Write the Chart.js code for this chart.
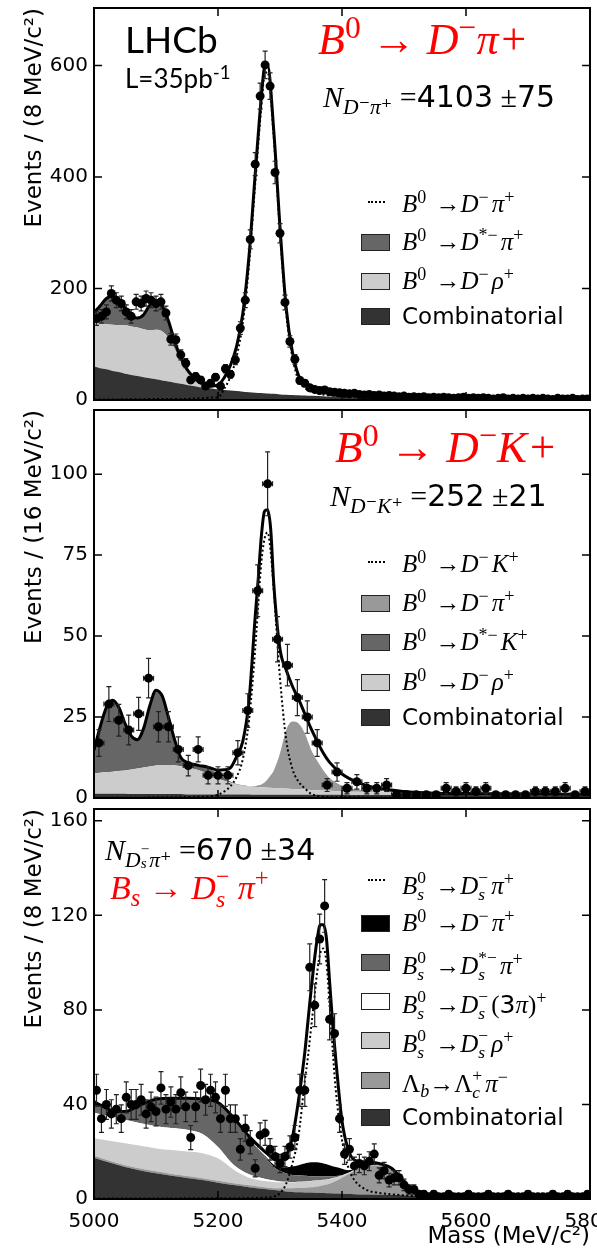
<!DOCTYPE html>
<html>
<head>
<meta charset="utf-8">
<script src="https://cdn.jsdelivr.net/npm/chart.js@4.4.1/dist/chart.umd.min.js"></script>
<style>
  body { margin: 0; background: #fff; }
  #page { position: relative; width: 597px; height: 1249px; overflow: hidden; }
  canvas { position: absolute; left: 0; }
  .ann { position: absolute; white-space: nowrap; line-height: 1; color: #000; z-index: 5; }
  .mi { font-family: 'Liberation Serif', 'DejaVu Serif', serif; font-style: italic; }
  .sf { font-family: 'DejaVu Sans', sans-serif; font-style: normal; }
  .lato { font-family: 'Lato', 'DejaVu Sans', sans-serif; }
  .red { color: #f00; }
  .rm { font-style: normal; }
  sup, sub { font-size: 0.72em; line-height: 0; position: relative; vertical-align: baseline; }
  sup { top: -0.5em; font-style: normal; }
  sub { top: 0.32em; }
  .ss { display: inline-block; font-size: 0.7em; line-height: 0.95; vertical-align: -0.34em; font-style: normal; }
  .row { position: absolute; left: 361px; height: 22px; width: 236px; font-size: 23px; line-height: 1; z-index: 5; }
  .sw { position: absolute; left: 0; top: 2.5px; width: 29px; height: 17px; box-sizing: border-box; border: 1px solid #222; }
  .dot { position: absolute; left: 7px; top: 8px; width: 17px; border-top: 2px dotted #000; }
  .lab { position: absolute; left: 41px; top: 0; white-space: nowrap; }
  .lab.mi { font-size: 25px; top: -2px; }
  .lab.mi sup, .lab.mi .ss { margin-right: 3px; }
</style>
</head>
<body>
<div id="page">
  <canvas id="c1" width="597" height="420" style="top:0"></canvas>
  <canvas id="c2" width="597" height="420" style="top:400px"></canvas>
  <canvas id="c3" width="597" height="449" style="top:800px"></canvas>

  <!-- panel 1 -->
  <div class="ann lato" style="left:125px;top:20px;font-size:37px">LHCb</div>
  <div class="ann lato" style="left:125px;top:65px;font-size:26px">L=35pb<sup>-1</sup></div>
  <div class="ann mi red" style="left:318px;top:18px;font-size:44px">B<sup>0</sup> → D<sup>−</sup>π+</div>
  <div class="ann mi" style="left:323px;top:82px;font-size:30px">N<sub>D<span class="rm">⁻</span>π<span class="rm">⁺</span></sub> <span class="rm">=</span><span class="sf">4103</span> <span class="rm">±</span><span class="sf">75</span></div>
  <div class="row" style="top:193px"><span class="dot"></span><span class="lab mi">B<sup>0</sup> →D<sup>−</sup>π<sup>+</sup></span></div>
  <div class="row" style="top:231px"><span class="sw" style="background:#666"></span><span class="lab mi">B<sup>0</sup> →D<sup>*−</sup>π<sup>+</sup></span></div>
  <div class="row" style="top:270px"><span class="sw" style="background:#ccc"></span><span class="lab mi">B<sup>0</sup> →D<sup>−</sup>ρ<sup>+</sup></span></div>
  <div class="row" style="top:305px"><span class="sw" style="background:#333"></span><span class="lab sf">Combinatorial</span></div>

  <!-- panel 2 -->
  <div class="ann mi red" style="left:335px;top:425px;font-size:45px">B<sup>0</sup> → D<sup>−</sup>K+</div>
  <div class="ann mi" style="left:330px;top:481px;font-size:30px">N<sub>D<span class="rm">⁻</span>K<span class="rm">⁺</span></sub> <span class="rm">=</span><span class="sf">252</span> <span class="rm">±</span><span class="sf">21</span></div>
  <div class="row" style="top:553px"><span class="dot"></span><span class="lab mi">B<sup>0</sup> →D<sup>−</sup>K<sup>+</sup></span></div>
  <div class="row" style="top:592px"><span class="sw" style="background:#999"></span><span class="lab mi">B<sup>0</sup> →D<sup>−</sup>π<sup>+</sup></span></div>
  <div class="row" style="top:631px"><span class="sw" style="background:#666"></span><span class="lab mi">B<sup>0</sup> →D<sup>*−</sup>K<sup>+</sup></span></div>
  <div class="row" style="top:671px"><span class="sw" style="background:#ccc"></span><span class="lab mi">B<sup>0</sup> →D<sup>−</sup>ρ<sup>+</sup></span></div>
  <div class="row" style="top:706px"><span class="sw" style="background:#333"></span><span class="lab sf">Combinatorial</span></div>

  <!-- panel 3 -->
  <div class="ann mi" style="left:105px;top:835px;font-size:30px">N<sub>D<span class="ss" style="vertical-align:-0.1em"><span class="rm">−</span><br><i>s</i></span>π<span class="rm">⁺</span></sub> <span class="rm">=</span><span class="sf">670</span> <span class="rm">±</span><span class="sf">34</span></div>
  <div class="ann mi red" style="left:110px;top:865px;font-size:34px">B<sub>s</sub> → D<span class="ss">−<br><i>s</i></span> π<sup>+</sup></div>
  <div class="row" style="top:871px"><span class="dot"></span><span class="lab mi">B<span class="ss">0<br><i>s</i></span> →D<span class="ss">−<br><i>s</i></span>π<sup>+</sup></span></div>
  <div class="row" style="top:912px"><span class="sw" style="background:#000"></span><span class="lab mi">B<sup>0</sup> →D<sup>−</sup>π<sup>+</sup></span></div>
  <div class="row" style="top:951px"><span class="sw" style="background:#666"></span><span class="lab mi">B<span class="ss">0<br><i>s</i></span> →D<span class="ss">*−<br><i>s</i></span>π<sup>+</sup></span></div>
  <div class="row" style="top:990px"><span class="sw" style="background:#fff"></span><span class="lab mi">B<span class="ss">0<br><i>s</i></span> →D<span class="ss">−<br><i>s</i></span><span class="rm">(</span><span class="sf">3</span>π<span class="rm">)</span><sup>+</sup></span></div>
  <div class="row" style="top:1029px"><span class="sw" style="background:#ccc"></span><span class="lab mi">B<span class="ss">0<br><i>s</i></span> →D<span class="ss">−<br><i>s</i></span>ρ<sup>+</sup></span></div>
  <div class="row" style="top:1069px"><span class="sw" style="background:#999"></span><span class="lab mi"><span class="rm">Λ</span><sub>b</sub>→<span class="rm">Λ</span><span class="ss">+<br><i>c</i></span>π<sup>−</sup></span></div>
  <div class="row" style="top:1106px"><span class="sw" style="background:#333"></span><span class="lab sf">Combinatorial</span></div>
</div>

<script>
// ---------- panel 1: B0 -> D- pi+ (8 MeV bins) ----------
const binWidth1 = 8;
const counts1 = [
  146, 150, 158, 191, 179, 173, 158, 150, 176, 173, 182, 179, 173, 176, 156, 109, 108, 81, 66, 36,
  42, 36, 25, 30, 41, 25, 56, 46, 72, 129, 179, 288, 423, 545, 601, 563, 408, 299, 175, 105,
  73, 35, 30, 22, 19, 17, 18, 15, 14, 13, 12, 11, 12, 10, 9, 10, 8, 9, 7, 8,
  7, 6, 7, 5, 6, 5, 6, 4, 5, 4, 5, 4, 3, 4, 5, 3, 4, 3, 4, 3,
  2, 3, 4, 2, 3, 2, 3, 2, 3, 2, 3, 2, 1, 3, 2, 2, 3, 1, 2, 2
];
const grid1 = [
  5000, 5010, 5020, 5030, 5040, 5050, 5060, 5070, 5080, 5090, 5100, 5110, 5120, 5130, 5140, 5150, 5160, 5170, 5180, 5190, 5200,
  5210, 5220, 5230, 5240, 5250, 5260, 5270, 5275, 5280, 5290, 5300, 5310, 5320, 5330, 5340, 5350, 5375, 5400, 5450, 5500,
  5550, 5600, 5650, 5700, 5750, 5800
];
// upper edges of the stacked components, as seen on the plot
const combTop1 = [
  60, 57, 55, 52, 50, 47, 45, 43, 41, 39, 37, 35, 33, 31, 29, 27, 25, 23, 22, 20, 19,
  18, 17, 16, 15, 14, 13, 12.5, 12, 11.5, 11, 10, 9.5, 9, 8.5, 8, 7.5, 6.5, 5.5, 4, 3,
  2.3, 1.7, 1.3, 1, 0.8, 0.6
];
const rhoTop1 = [
  137, 137, 136, 135, 134, 134, 132, 130, 127, 125, 126, 123, 112, 92, 68, 50, 36, 28, 23, 20, 19,
  18, 17, 16, 15, 14, 13, 12.5, 12, 11.5, 11, 10, 9.5, 9, 8.5, 8, 7.5, 6.5, 5.5, 4, 3,
  2.3, 1.7, 1.3, 1, 0.8, 0.6
];
const dstarTop1 = [
  156, 168, 181, 186, 178, 164, 150, 146, 152, 168, 176, 167, 140, 104, 73, 53, 40, 31, 25, 21, 19,
  18, 17, 16, 15, 14, 13, 12.5, 12, 11.5, 11, 10, 9.5, 9, 8.5, 8, 7.5, 6.5, 5.5, 4, 3,
  2.3, 1.7, 1.3, 1, 0.8, 0.6
];
const signal1 = [
  1, 1, 1, 1, 1, 1.5, 1.5, 1.5, 1.5, 2, 2, 2, 2, 2, 2, 2, 2.5, 3, 3.5, 4.5, 5,
  20, 42, 78, 138, 242, 388, 528, 583, 588, 470, 300, 156, 77, 35, 22, 15, 9, 7, 5, 4,
  3.5, 3, 3, 2.5, 2.5, 2
];
const total1 = [
  157, 169, 182, 187, 179, 165, 151, 147, 153, 170, 178, 169, 142, 106, 76, 55, 42, 34, 28, 25, 27,
  40, 62, 96, 155, 258, 405, 545, 596, 600, 482, 310, 165, 86, 44, 30, 23, 16, 13, 9.5, 7.5,
  6.3, 5.2, 4.5, 4, 3.6, 3.2
];

// ---------- panel 2: B0 -> D- K+ (16 MeV bins) ----------
const binWidth2 = 16;
const counts2 = [
  17, 29, 24, 21, 26, 37, 22, 22, 15, 10, 15, 7, 7, 7, 14, 27, 64, 97, 49, 41,
  31, 25, 17, 4, 8, 3, 5, 3, 3, 4, 1, 1, 1, 1, 1, 3, 2, 3, 2, 3,
  1, 1, 1, 1, 2, 2, 2, 3, 1, 2
];
const grid2 = [
  5000, 5010, 5020, 5030, 5040, 5050, 5060, 5070, 5080, 5090, 5100, 5110, 5120, 5130, 5140, 5150, 5160, 5170, 5180, 5190, 5200,
  5210, 5220, 5230, 5240, 5250, 5260, 5265, 5270, 5275, 5280, 5285, 5290, 5300, 5310, 5320, 5330, 5340, 5350, 5360, 5370,
  5380, 5400, 5425, 5450, 5500, 5550, 5600, 5700, 5800
];
const combTop2 = [
  1.3, 1.3, 1.3, 1.3, 1.3, 1.3, 1.2, 1.2, 1.2, 1.2, 1.2, 1.2, 1.2, 1.2, 1.2, 1.1, 1.1, 1.1, 1.1, 1.1, 1.1,
  1.1, 1.1, 1.1, 1.1, 1.1, 1.0, 1.0, 1.0, 1.0, 1.0, 1.0, 1.0, 1.0, 1.0, 1.0, 1.0, 1.0, 1.0, 1.0, 1.0,
  1.0, 1.0, 0.9, 0.9, 0.9, 0.9, 0.9, 0.8, 0.8
];
const rhoTop2 = [
  7.6, 7.8, 8.0, 8.1, 8.3, 8.5, 8.8, 9.1, 9.4, 9.7, 10.0, 10.1, 10.2, 10.1, 9.8, 9.4, 9.0, 8.5, 7.8, 7.0, 6.0,
  5.3, 4.8, 4.2, 3.8, 3.6, 3.4, 3.4, 3.3, 3.3, 3.2, 3.2, 3.1, 3.0, 2.9, 2.8, 2.7, 2.6, 2.5, 2.4, 2.3,
  2.2, 2.0, 1.9, 1.8, 1.6, 1.4, 1.3, 1.1, 1.0
];
const dstarTop2 = [
  14, 22, 28, 30, 28, 23, 19.2, 18, 21.5, 28.3, 33, 31.3, 24.8, 17.8, 12.2, 11, 10.3, 9.9, 9.5, 8.6, 7.6,
  6.2, 5.1, 4.3, 3.9, 3.6, 3.4, 3.4, 3.3, 3.3, 3.2, 3.2, 3.1, 3.0, 2.9, 2.8, 2.7, 2.6, 2.5, 2.4, 2.3,
  2.2, 2.0, 1.9, 1.8, 1.6, 1.4, 1.3, 1.1, 1.0
];
const dpiTop2 = [
  14, 22, 28, 30, 28, 23, 19.2, 18, 21.5, 28.3, 33, 31.3, 24.8, 17.8, 12.2, 11, 10.3, 9.9, 9.5, 8.6, 7.6,
  6.2, 5.1, 4.3, 3.9, 3.6, 3.6, 3.9, 4.2, 4.8, 5.8, 7.0, 8.5, 13.8, 21, 23.6, 23, 20, 15, 11.5, 8.5,
  6.2, 3.8, 2.6, 2.1, 1.7, 1.4, 1.3, 1.1, 1.0
];
const signal2 = [
  0.1, 0.1, 0.1, 0.1, 0.1, 0.1, 0.1, 0.1, 0.1, 0.2, 0.2, 0.2, 0.2, 0.2, 0.3, 0.3, 0.3, 0.4, 0.4, 0.6, 1.0,
  2, 3.6, 6.5, 12, 24, 46, 60, 73, 80, 82, 76, 64, 37, 18, 9, 5, 3, 1.3, 0.7, 0.4,
  0.3, 0.2, 0.2, 0.1, 0.1, 0.1, 0.1, 0.1, 0.1
];
const total2 = [
  14.8, 22, 28, 30.2, 28, 23, 19.2, 18, 21.5, 28.5, 33.3, 31.5, 25, 18, 12.5, 11, 10.4, 10, 9.7, 9.1, 8.6,
  8.7, 9.3, 12.8, 17.5, 30, 56, 68, 81, 88.5, 89, 83, 66, 46, 39.5, 34.5, 30.5, 26, 21.5, 17.5, 13.8,
  11, 7.4, 4.8, 3.3, 2.0, 1.5, 1.4, 1.2, 1.1
];

// ---------- panel 3: Bs -> Ds- pi+ (8 MeV bins) ----------
const binWidth3 = 8;
const counts3 = [
  46, 34, 40, 36, 38, 34, 43, 40, 40, 42, 36, 39, 37, 47, 38, 41, 38, 45, 39, 26,
  39, 48, 42, 46, 43, 34, 46, 34, 34, 21, 30, 24, 13, 27, 28, 21, 18, 15, 18, 22,
  26, 46, 46, 98, 82, 110, 124, 76, 70, 34, 19, 21, 14, 15, 14, 16, 19, 10, 12, 8,
  9, 9, 6, 4, 4, 2, 2, 1, 2, 1, 1, 2, 1, 1, 1, 2, 1, 1, 1, 2,
  1, 1, 1, 2, 1, 1, 1, 2, 1, 1, 1, 1, 2, 1, 1, 2, 1, 1, 1, 2
];
const grid3 = [
  5000, 5025, 5050, 5075, 5100, 5125, 5150, 5175, 5200, 5225, 5250, 5275,
  5290, 5300, 5310, 5320, 5330, 5340, 5345, 5350, 5355, 5360, 5365, 5370, 5375, 5380, 5385, 5390, 5400, 5410, 5420,
  5440, 5460, 5480, 5500, 5520, 5550, 5600, 5700, 5800
];
const combTop3 = [
  17.5, 15.4, 13.5, 12.1, 10.9, 9.8, 8.9, 8.0, 6.9, 5.9, 5.0, 4.2,
  3.8, 3.5, 3.2, 3.0, 2.9, 2.8, 2.7, 2.7, 2.6, 2.6, 2.5, 2.5, 2.4, 2.4, 2.3, 2.3, 2.2, 2.1, 2.0,
  1.9, 1.8, 1.7, 1.6, 1.5, 1.4, 1.2, 0.9, 0.7
];
const lambdaTop3 = [
  18.3, 16.2, 14.3, 12.9, 11.7, 10.6, 9.7, 8.8, 7.7, 6.7, 5.8, 5.0,
  4.6, 4.5, 4.5, 4.6, 4.7, 4.8, 4.9, 5.0, 5.1, 5.3, 5.5, 5.8, 6.1, 6.5, 7.0, 7.6, 9.0, 10.5, 12.0,
  14.2, 14.3, 12.3, 6.6, 2.0, 1.4, 1.2, 0.9, 0.7
];
const rhoTop3 = [
  25.7, 24.6, 23.6, 22.5, 21.4, 20.7, 20.1, 19.4, 17.2, 12.5, 9.0, 7.6,
  7.2, 7.1, 7.1, 7.1, 7.2, 7.3, 7.4, 7.5, 7.6, 7.7, 7.8, 8.0, 8.2, 8.4, 8.7, 9.0, 9.8, 10.9, 12.2,
  14.2, 14.3, 12.3, 6.6, 2.0, 1.4, 1.2, 0.9, 0.7
];
const threePiTop3 = [
  36.5, 35, 33.5, 32, 30.8, 30, 29.3, 27.5, 22, 14.5, 10.5, 8.6,
  7.8, 7.4, 7.3, 7.2, 7.3, 7.4, 7.5, 7.6, 7.7, 7.8, 7.9, 8.1, 8.3, 8.5, 8.8, 9.1, 9.9, 11.0, 12.3,
  14.2, 14.3, 12.3, 6.6, 2.0, 1.4, 1.2, 0.9, 0.7
];
const dsstarTop3 = [
  41, 37.6, 36.8, 39.5, 41.9, 42.3, 42.3, 42, 40.5, 34, 25.5, 18.3,
  13.5, 11.8, 10.8, 10.2, 10.0, 9.8, 9.7, 9.6, 9.6, 9.6, 9.6, 9.6, 9.6, 9.6, 9.6, 9.7, 10.1, 11.1, 12.4,
  14.2, 14.3, 12.3, 6.6, 2.0, 1.4, 1.2, 0.9, 0.7
];
const b0Top3 = [
  41, 37.6, 36.8, 39.5, 41.9, 42.3, 42.3, 42, 40.5, 34, 25.5, 18.5,
  14.5, 13.4, 13.4, 13.8, 14.3, 15, 15.3, 15.5, 15.5, 15.5, 15.3, 15, 14.7, 14.3, 13.9, 13.5, 12.8, 12.2, 12.6,
  14.2, 14.3, 12.3, 6.6, 2.0, 1.4, 1.2, 0.9, 0.7
];
const signal3 = [
  0.2, 0.2, 0.2, 0.2, 0.2, 0.2, 0.3, 0.3, 0.3, 0.3, 0.4, 0.6,
  1.0, 2.5, 6.5, 15, 27, 50, 60, 72, 84, 96, 104, 106, 100, 82, 63, 46, 25, 13.5, 8,
  3.8, 2.6, 2, 1.5, 1.2, 1, 0.6, 0.3, 0.2
];
const total3 = [
  41.2, 37.8, 37, 39.8, 42.2, 42.6, 42.6, 42.3, 40.8, 34.5, 26.5, 20.2,
  17, 16.5, 18.5, 26, 42, 62, 75, 88, 100, 110, 116, 116, 110, 92, 74, 59, 33, 21, 16.5,
  15.6, 15, 13, 7.5, 2.4, 1.4, 1.2, 0.9, 0.7
];

const massMin = 5000, massMax = 5800;
const axisFont = { family: 'DejaVu Sans', size: 20 };
const titleFont = { family: 'DejaVu Sans', size: 23 };

// frame with inward ticks on all four sides
const framePlugin = {
  id: 'frame',
  afterDatasetsDraw(chart) {
    const { ctx, chartArea: a, scales: { x, y } } = chart;
    ctx.save();
    ctx.strokeStyle = '#000';
    ctx.lineWidth = 1.5;
    ctx.beginPath();
    x.ticks.forEach(t => {
      const px = x.getPixelForValue(t.value);
      if (px <= a.left + 1 || px >= a.right - 1) return;
      ctx.moveTo(px, a.bottom); ctx.lineTo(px, a.bottom - 8);
      ctx.moveTo(px, a.top); ctx.lineTo(px, a.top + 8);
    });
    y.ticks.forEach(t => {
      const py = y.getPixelForValue(t.value);
      if (py <= a.top + 1 || py >= a.bottom - 1) return;
      ctx.moveTo(a.left, py); ctx.lineTo(a.left + 8, py);
      ctx.moveTo(a.right, py); ctx.lineTo(a.right - 8, py);
    });
    ctx.stroke();
    ctx.lineWidth = 2;
    ctx.strokeRect(a.left, a.top, a.right - a.left, a.bottom - a.top);
    ctx.restore();
  }
};

// Poisson error bars under the data markers
const errorBarPlugin = {
  id: 'errorBars',
  beforeDatasetDraw(chart, args) {
    const ds = chart.data.datasets[args.index];
    if (!ds.halfBin) return;
    const { ctx, chartArea: a, scales: { x, y } } = chart;
    ctx.save();
    ctx.beginPath();
    ctx.rect(a.left, a.top, a.right - a.left, a.bottom - a.top);
    ctx.clip();
    ctx.strokeStyle = '#222';
    ctx.lineWidth = 1.2;
    ctx.beginPath();
    ds.data.forEach(p => {
      const err = Math.sqrt(p.y);
      const px = x.getPixelForValue(p.x), py = y.getPixelForValue(p.y);
      const lo = y.getPixelForValue(p.y - err), hi = y.getPixelForValue(p.y + err);
      const xl = x.getPixelForValue(p.x - ds.halfBin), xr = x.getPixelForValue(p.x + ds.halfBin);
      ctx.moveTo(px, lo); ctx.lineTo(px, hi);
      ctx.moveTo(px - 2.5, hi); ctx.lineTo(px + 2.5, hi);
      ctx.moveTo(px - 2.5, lo); ctx.lineTo(px + 2.5, lo);
      ctx.moveTo(xl, py); ctx.lineTo(xr, py);
      if (ds.xCaps) {
        ctx.moveTo(xl, py - 2.5); ctx.lineTo(xl, py + 2.5);
        ctx.moveTo(xr, py - 2.5); ctx.lineTo(xr, py + 2.5);
      }
    });
    ctx.stroke();
    ctx.restore();
  }
};

function makePanel(id, p) {
  const xy = ys => p.grid.map((m, i) => ({ x: m, y: ys[i] }));
  const centers = p.counts.map((_, i) => massMin + p.binWidth * (i + 0.5));
  const datasets = [
    {
      label: 'Data', data: centers.map((m, i) => ({ x: m, y: p.counts[i] })),
      showLine: false, pointRadius: 4.5, pointHoverRadius: 4.5, pointBackgroundColor: '#000',
      pointBorderWidth: 0, halfBin: p.binWidth / 2, xCaps: p.xCaps
    },
    {
      label: 'Fit', data: xy(p.total), borderColor: '#000', borderWidth: 3,
      pointRadius: 0, fill: false, cubicInterpolationMode: 'monotone'
    },
    {
      label: 'Signal', data: xy(p.signal), borderColor: '#000', borderWidth: 2, borderDash: [2, 2.5],
      pointRadius: 0, fill: false, cubicInterpolationMode: 'monotone'
    }
  ];
  p.bands.forEach((b, i) => datasets.push({
    label: b.label, data: xy(b.top), backgroundColor: b.color,
    borderColor: 'rgba(0,0,0,0)', borderWidth: 0, pointRadius: 0,
    fill: i === 0 ? 'origin' : '-1', cubicInterpolationMode: 'monotone'
  }));

  return new Chart(document.getElementById(id), {
    type: 'line',
    data: { datasets },
    plugins: [errorBarPlugin, framePlugin],
    options: {
      responsive: false,
      animation: false,
      events: [],
      layout: { padding: { top: p.padTop, right: 7, left: 0, bottom: 0 }, autoPadding: false },
      plugins: { legend: { display: false }, tooltip: { enabled: false } },
      scales: {
        x: {
          type: 'linear', min: massMin, max: massMax,
          afterFit: s => { s.height = p.xHeight; s.paddingLeft = 0; s.paddingRight = 0; },
          grid: { display: false, drawTicks: false },
          border: { display: false },
          ticks: {
            display: p.showX, stepSize: 200, includeBounds: false, autoSkip: false, maxRotation: 0,
            font: axisFont, color: '#000', padding: 11, callback: v => String(v)
          },
          title: {
            display: p.showX, text: 'Mass (MeV/c²)', align: 'end', color: '#000',
            font: { ...titleFont, lineHeight: 1 }, padding: { top: 0, bottom: 0 }
          }
        },
        y: {
          min: 0, max: p.yMax,
          afterFit: s => { s.width = 94; s.paddingTop = 0; s.paddingBottom = 0; },
          grid: { display: false, drawTicks: false },
          border: { display: false },
          ticks: {
            stepSize: p.yStep, includeBounds: false, font: axisFont, color: '#000', padding: 6,
            callback: v => String(v)
          },
          title: {
            display: true, text: p.yTitle, align: 'end', color: '#000',
            font: titleFont, padding: { top: 21, bottom: 0 }
          }
        }
      }
    }
  });
}

makePanel('c1', {
  binWidth: binWidth1, counts: counts1, grid: grid1, total: total1, signal: signal1,
  bands: [
    { label: 'Combinatorial', top: combTop1, color: '#333' },
    { label: 'B0 -> D- rho+', top: rhoTop1, color: '#ccc' },
    { label: 'B0 -> D*- pi+', top: dstarTop1, color: '#666' }
  ],
  yMax: 703, yStep: 200, yTitle: 'Events / (8 MeV/c²)', padTop: 8, xHeight: 20, showX: false, xCaps: false
});

makePanel('c2', {
  binWidth: binWidth2, counts: counts2, grid: grid2, total: total2, signal: signal2,
  bands: [
    { label: 'Combinatorial', top: combTop2, color: '#333' },
    { label: 'B0 -> D- rho+', top: rhoTop2, color: '#ccc' },
    { label: 'B0 -> D*- K+', top: dstarTop2, color: '#666' },
    { label: 'B0 -> D- pi+', top: dpiTop2, color: '#999' }
  ],
  yMax: 119.8, yStep: 25, yTitle: 'Events / (16 MeV/c²)', padTop: 10, xHeight: 22, showX: false, xCaps: true
});

makePanel('c3', {
  binWidth: binWidth3, counts: counts3, grid: grid3, total: total3, signal: signal3,
  bands: [
    { label: 'Combinatorial', top: combTop3, color: '#333' },
    { label: 'Lb -> Lc+ pi-', top: lambdaTop3, color: '#999' },
    { label: 'Bs -> Ds- rho+', top: rhoTop3, color: '#ccc' },
    { label: 'Bs -> Ds- (3pi)+', top: threePiTop3, color: '#fff' },
    { label: 'Bs -> Ds*- pi+', top: dsstarTop3, color: '#666' },
    { label: 'B0 -> D- pi+', top: b0Top3, color: '#000' }
  ],
  yMax: 165, yStep: 40, yTitle: 'Events / (8 MeV/c²)', padTop: 9, xHeight: 50, showX: true, xCaps: false
});
</script>
</body>
</html>
